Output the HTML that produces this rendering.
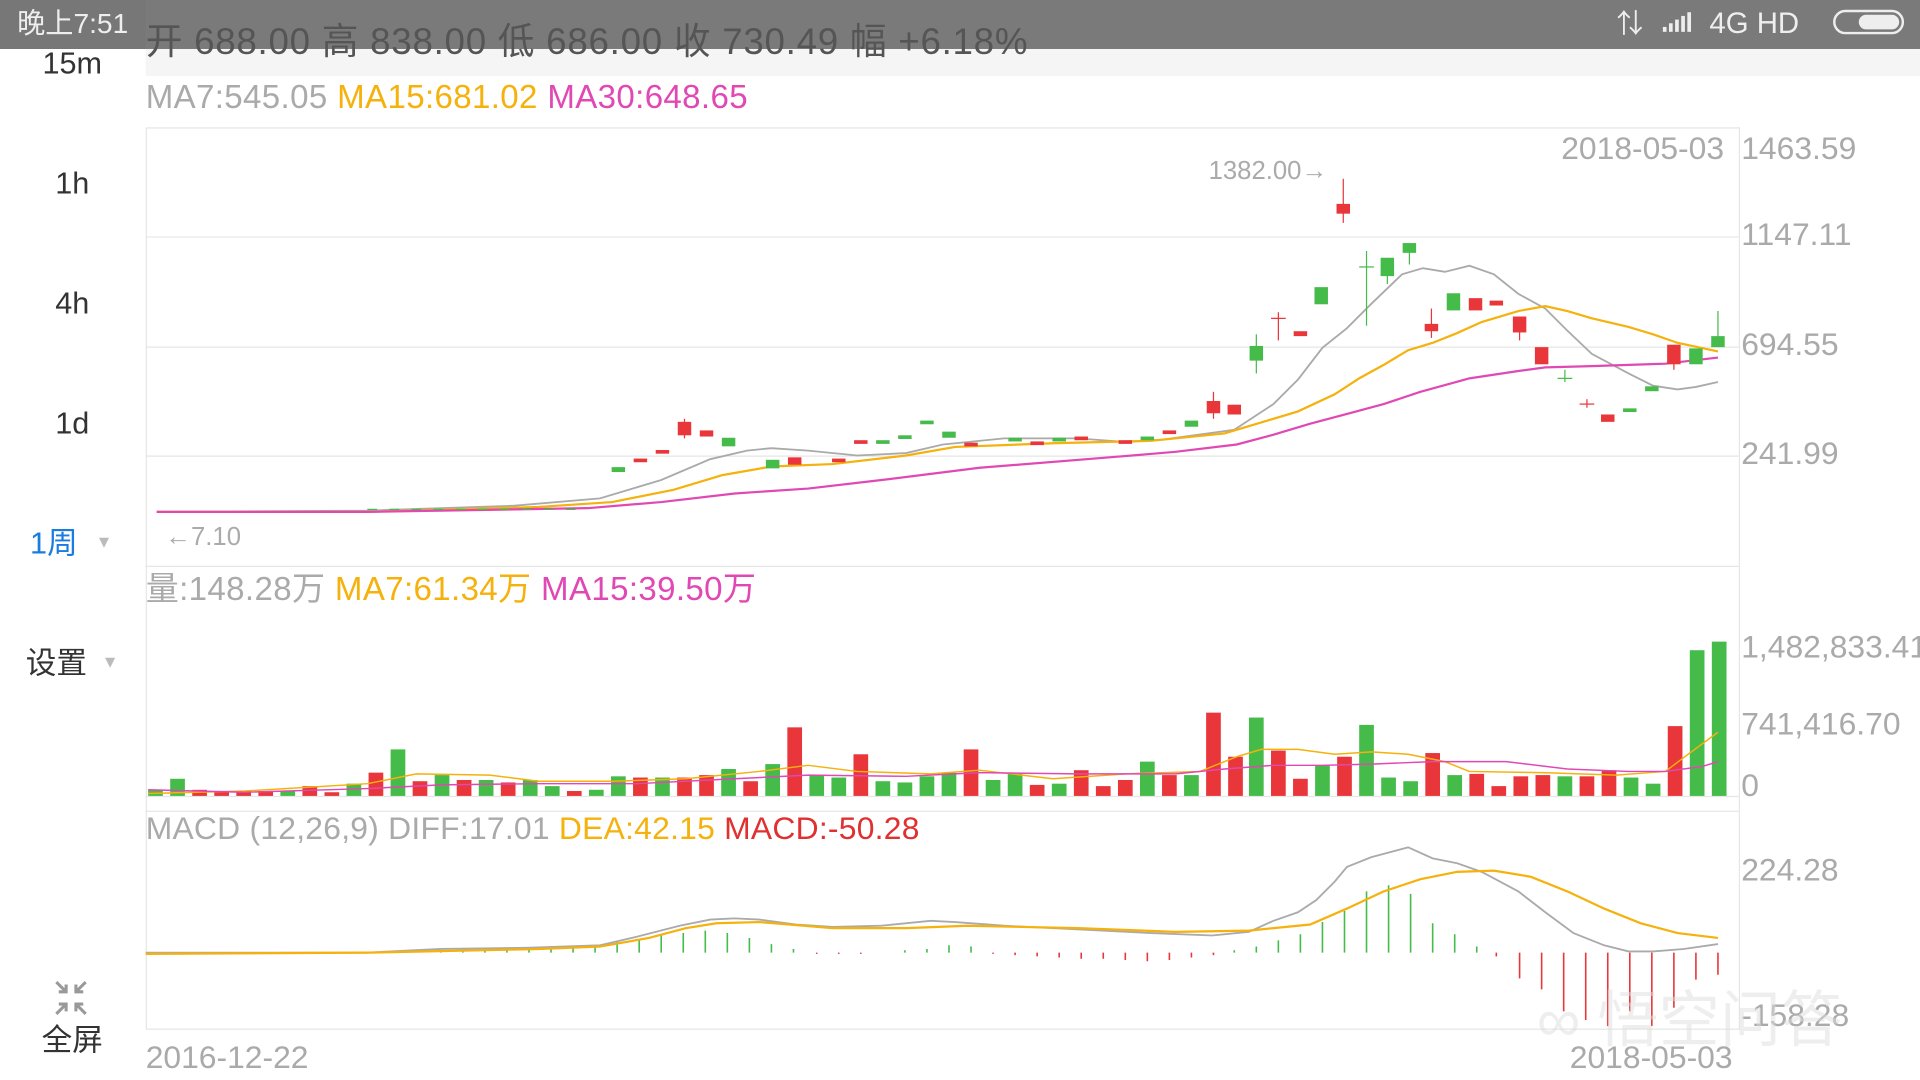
<!DOCTYPE html>
<html><head><meta charset="utf-8"><style>
html,body{margin:0;padding:0;background:#fff;width:1920px;height:1080px;overflow:hidden}
svg{display:block}
text{font-family:"Liberation Sans","Noto Sans CJK SC",sans-serif}
</style></head><body>
<svg width="1920" height="1080" viewBox="0 0 1568 882" xmlns="http://www.w3.org/2000/svg">
<rect width="1568" height="882" fill="#fff"/>
<rect x="119" y="40" width="1449" height="22" fill="#f5f5f5"/>
<rect x="0" y="0" width="1568" height="40" fill="#7a7a7a"/>
<rect x="0" y="0" width="119" height="40" fill="#777"/>
<text x="14" y="27" font-size="23" fill="#eee">晚上7:51</text>
<text x="119" y="44" font-size="30" fill="#555" letter-spacing="0.6">开 688.00 高 838.00 低 686.00 收 730.49 幅 +6.18%</text>
<text x="1320" y="27" font-size="22" fill="#eee">⇅</text>
<g fill="#eee"><rect x="1358" y="22" width="3" height="4"/><rect x="1363" y="19" width="3" height="7"/><rect x="1368" y="16" width="3" height="10"/><rect x="1373" y="13" width="3" height="13"/><rect x="1378" y="10" width="3" height="16"/></g>
<text x="1396" y="27" font-size="24" fill="#eee">4G HD</text>
<rect x="1498" y="9" width="56" height="18" rx="9" fill="none" stroke="#eee" stroke-width="2"/>
<rect x="1518" y="12" width="33" height="12" rx="6" fill="#eee"/>
<g font-size="25" fill="#333" text-anchor="middle">
<text x="59" y="60">15m</text><text x="59" y="158">1h</text><text x="59" y="256">4h</text><text x="59" y="354">1d</text>
<text x="44" y="452" fill="#1a7be0">1周</text><text x="46" y="550">设置</text><text x="59" y="858">全屏</text>
</g>
<text x="78" y="447" font-size="14" fill="#bbb">▼</text><text x="83" y="545" font-size="14" fill="#bbb">▼</text>
<g stroke="#999" stroke-width="2.5" fill="none"><path d="M46 802l8 8m0-6v6h-6M70 802l-8 8m0-6v6h6M46 828l8-8m0 6v-6h-6M70 828l-8-8m0 6v-6h6"/></g>
<g stroke="#e6e6e6" stroke-width="1" fill="none">
<rect x="119.5" y="104.5" width="1301" height="736"/>
<line x1="119" y1="193.5" x2="1420" y2="193.5"/><line x1="119" y1="283.5" x2="1420" y2="283.5"/><line x1="119" y1="372.5" x2="1420" y2="372.5"/>
<line x1="119" y1="462.5" x2="1420" y2="462.5"/><line x1="119" y1="650.5" x2="1420" y2="650.5"/><line x1="119" y1="662.5" x2="1420" y2="662.5"/>
</g>
<text x="119" y="88" font-size="27" fill="#aaa" letter-spacing="0.3">MA7:545.05 <tspan fill="#f5b10c">MA15:681.02</tspan> <tspan fill="#e048b4">MA30:648.65</tspan></text>
<g font-size="26" fill="#aaa">
<text x="1275" y="130">2018-05-03</text><text x="1422" y="130">1463.59</text><text x="1422" y="200">1147.11</text><text x="1422" y="290">694.55</text><text x="1422" y="379">241.99</text>
<text x="1422" y="537">1,482,833.41</text><text x="1422" y="600">741,416.70</text><text x="1422" y="650">0</text>
<text x="1422" y="719">224.28</text><text x="1422" y="838">-158.28</text>
<text x="119" y="872">2016-12-22</text><text x="1282" y="872">2018-05-03</text>
</g>
<text x="987" y="146" font-size="21" fill="#aaa">1382.00→</text>
<text x="135" y="445" font-size="21" fill="#aaa">←7.10</text>
<text x="119" y="490" font-size="27" fill="#aaa" letter-spacing="0.3">量:148.28万 <tspan fill="#f5b10c">MA7:61.34万</tspan> <tspan fill="#e048b4">MA15:39.50万</tspan></text>
<text x="119" y="685" font-size="26" fill="#aaa" letter-spacing="0.2">MACD (12,26,9) DIFF:17.01 <tspan fill="#f5b10c">DEA:42.15</tspan> <tspan fill="#e03030">MACD:-50.28</tspan></text>
<polyline fill="none" stroke="#aaa" stroke-width="1.5" points="128,418 300,417 420,413 490,407 540,392 580,375 610,368 630,366 660,368 700,372 740,370 770,363 820,358 880,358 920,361 950,359 1008,351 1040,330 1060,310 1080,284 1100,268 1120,248 1145,224 1162,219 1180,222 1200,217 1220,224 1240,240 1262,252 1280,270 1300,289 1330,305 1350,315 1370,318 1385,316 1403,312"/>
<polyline fill="none" stroke="#f5b10c" stroke-width="1.8" points="128,418 300,418 440,414 500,410 550,400 590,388 630,381 680,379 740,372 780,365 860,362 940,360 1000,354 1030,345 1060,336 1090,322 1110,309 1130,298 1150,286 1170,280 1190,272 1210,263 1240,254 1262,250 1280,254 1300,260 1330,267 1350,273 1370,280 1403,287"/>
<polyline fill="none" stroke="#e048b4" stroke-width="1.8" points="128,418 300,418 480,415 540,410 600,403 660,399 720,392 800,382 900,374 960,369 1010,363 1040,355 1070,346 1100,338 1130,330 1160,320 1200,309 1240,303 1262,300 1300,299 1330,298 1360,297 1403,292"/>
<g fill="#45bb4a" stroke="#45bb4a">
<rect x="500" y="382" width="10" height="3"/><rect x="590" y="358" width="10" height="6"/><rect x="626" y="376" width="10" height="6"/><rect x="716" y="360" width="10" height="2"/><rect x="734" y="356" width="10" height="2"/><rect x="752" y="344" width="10" height="2"/><rect x="770" y="353" width="10" height="4"/><rect x="824" y="358" width="10" height="2"/><rect x="860" y="358" width="10" height="2"/><rect x="932" y="357" width="10" height="2"/><rect x="968" y="344" width="10" height="4"/>
<rect x="1021" y="283" width="10" height="11"/><rect x="1074" y="235" width="10" height="13"/><rect x="1128" y="211" width="10" height="14"/><rect x="1146" y="199" width="10" height="7"/><rect x="1182" y="240" width="10" height="13"/><rect x="1344" y="316" width="10" height="3"/><rect x="1326" y="334" width="10" height="2"/><rect x="1380" y="285" width="10" height="12"/><rect x="1398" y="275" width="10" height="8"/>
<line x1="1026" y1="273" x2="1026" y2="305"/><line x1="1116" y1="205" x2="1116" y2="266"/><line x1="1110" y1="218" x2="1122" y2="218"/><line x1="1272" y1="309" x2="1284" y2="309"/><line x1="1278" y1="302" x2="1278" y2="312"/><line x1="1403" y1="254" x2="1403" y2="283"/><line x1="1133" y1="225" x2="1133" y2="232"/><line x1="1151" y1="206" x2="1151" y2="216"/>
<line x1="300" y1="416" x2="480" y2="416" stroke-dasharray="8,10"/>
</g>
<g fill="#e8363a" stroke="#e8363a">
<rect x="518" y="375" width="10" height="2"/><rect x="536" y="368" width="10" height="2"/><rect x="554" y="345" width="10" height="10"/><rect x="572" y="352" width="10" height="4"/><rect x="644" y="374" width="10" height="5"/><rect x="680" y="375" width="10" height="2"/><rect x="698" y="360" width="10" height="2"/><rect x="788" y="362" width="10" height="2"/><rect x="842" y="361" width="10" height="2"/><rect x="878" y="357" width="10" height="2"/><rect x="914" y="360" width="10" height="2"/><rect x="950" y="352" width="10" height="2"/>
<rect x="986" y="328" width="10" height="9"/><rect x="1003" y="331" width="10" height="7"/><rect x="1057" y="271" width="10" height="3"/><rect x="1092" y="167" width="10" height="7"/><rect x="1164" y="265" width="10" height="5"/><rect x="1200" y="244" width="10" height="9"/><rect x="1217" y="246" width="10" height="3"/><rect x="1236" y="259" width="10" height="12"/><rect x="1254" y="284" width="10" height="13"/><rect x="1308" y="339" width="10" height="5"/><rect x="1362" y="282" width="10" height="15"/>
<line x1="559" y1="342" x2="559" y2="358"/><line x1="991" y1="320" x2="991" y2="342"/><line x1="1044" y1="255" x2="1044" y2="278"/><line x1="1038" y1="260" x2="1050" y2="260"/><line x1="1097" y1="146" x2="1097" y2="182"/><line x1="1169" y1="252" x2="1169" y2="276"/><line x1="1241" y1="271" x2="1241" y2="278"/><line x1="1290" y1="330" x2="1302" y2="330"/><line x1="1296" y1="326" x2="1296" y2="333"/><line x1="1367" y1="297" x2="1367" y2="302"/>
</g>
<g fill="#45bb4a">
<rect x="121" y="645" width="12" height="5"/><rect x="139" y="636" width="12" height="14"/><rect x="229" y="646" width="12" height="4"/><rect x="283" y="640" width="12" height="10"/><rect x="319" y="612" width="12" height="38"/><rect x="355" y="633" width="12" height="17"/><rect x="391" y="637" width="12" height="13"/><rect x="427" y="637" width="12" height="13"/><rect x="445" y="642" width="12" height="8"/><rect x="481" y="645" width="12" height="5"/><rect x="499" y="634" width="12" height="16"/><rect x="535" y="635" width="12" height="15"/><rect x="589" y="628" width="12" height="22"/><rect x="625" y="624" width="12" height="26"/><rect x="661" y="633" width="12" height="17"/><rect x="679" y="635" width="12" height="15"/><rect x="715" y="638" width="12" height="12"/><rect x="733" y="639" width="12" height="11"/><rect x="751" y="634" width="12" height="16"/><rect x="769" y="631" width="12" height="19"/><rect x="805" y="637" width="12" height="13"/><rect x="823" y="632" width="12" height="18"/><rect x="859" y="640" width="12" height="10"/><rect x="931" y="622" width="12" height="28"/><rect x="967" y="633" width="12" height="17"/><rect x="1020" y="586" width="12" height="64"/><rect x="1074" y="625" width="12" height="25"/><rect x="1110" y="592" width="12" height="58"/><rect x="1128" y="635" width="12" height="15"/><rect x="1146" y="638" width="12" height="12"/><rect x="1182" y="633" width="12" height="17"/><rect x="1272" y="634" width="12" height="16"/><rect x="1326" y="635" width="12" height="15"/><rect x="1344" y="640" width="12" height="10"/><rect x="1380" y="531" width="12" height="119"/><rect x="1398" y="524" width="12" height="126"/>
</g>
<g fill="#e8363a">
<rect x="157" y="645" width="12" height="5"/><rect x="175" y="647" width="12" height="3"/><rect x="193" y="646" width="12" height="4"/><rect x="211" y="646" width="12" height="4"/><rect x="247" y="642" width="12" height="8"/><rect x="265" y="647" width="12" height="3"/><rect x="301" y="631" width="12" height="19"/><rect x="337" y="638" width="12" height="12"/><rect x="373" y="637" width="12" height="13"/><rect x="409" y="639" width="12" height="11"/><rect x="463" y="646" width="12" height="4"/><rect x="517" y="635" width="12" height="15"/><rect x="553" y="635" width="12" height="15"/><rect x="571" y="633" width="12" height="17"/><rect x="607" y="638" width="12" height="12"/><rect x="643" y="594" width="12" height="56"/><rect x="697" y="616" width="12" height="34"/><rect x="787" y="612" width="12" height="38"/><rect x="841" y="641" width="12" height="9"/><rect x="877" y="629" width="12" height="21"/><rect x="895" y="642" width="12" height="8"/><rect x="913" y="637" width="12" height="13"/><rect x="949" y="633" width="12" height="17"/><rect x="985" y="582" width="12" height="68"/><rect x="1003" y="618" width="12" height="32"/><rect x="1038" y="613" width="12" height="37"/><rect x="1056" y="636" width="12" height="14"/><rect x="1092" y="618" width="12" height="32"/><rect x="1164" y="615" width="12" height="35"/><rect x="1200" y="632" width="12" height="18"/><rect x="1218" y="642" width="12" height="8"/><rect x="1236" y="634" width="12" height="16"/><rect x="1254" y="633" width="12" height="17"/><rect x="1290" y="634" width="12" height="16"/><rect x="1308" y="629" width="12" height="21"/><rect x="1362" y="593" width="12" height="57"/>
</g>
<polyline fill="none" stroke="#f5b10c" stroke-width="1.2" points="121,648 200,646 300,640 340,632 400,633 440,638 500,638 560,636 620,630 660,625 700,630 760,632 800,629 860,636 920,632 980,630 1010,618 1030,612 1060,612 1090,616 1120,614 1150,616 1180,622 1200,630 1260,631 1320,633 1360,630 1380,615 1403,598"/>
<polyline fill="none" stroke="#e048b4" stroke-width="1.2" points="121,645 200,647 300,644 360,641 440,640 520,640 600,636 660,633 740,634 800,631 880,632 960,632 1000,628 1040,625 1080,625 1120,624 1170,622 1230,622 1280,628 1330,630 1360,630 1390,626 1403,622"/>
<g stroke="#45bb4a" stroke-width="1.3">
<path d="M360 778v-2M378 778v-2M396 778v-3M414 778v-3M432 778v-4M450 778v-4M468 778v-5M486 778v-6M504 778v-9M522 778v-11M540 778v-14M558 778v-16M576 778v-18M594 778v-16M612 778v-12M630 778v-7M648 778v-3M739 778v-2M757 778v-3M775 778v-6M793 778v-5M1008 778v-2M1026 778v-5M1044 778v-10M1062 778v-15M1080 778v-25M1098 778v-34M1116 778v-50M1134 778v-55M1152 778v-48M1170 778v-24M1188 778v-15M1206 778v-5"/>
</g>
<g stroke="#e8363a" stroke-width="1.3">
<path d="M667 778v1M685 778v1M703 778v1M811 778v1M829 778v2M847 778v3M865 778v4M883 778v5M901 778v5M919 778v6M937 778v7M955 778v6M973 778v4M991 778v2M1222 778v3M1241 778v21M1259 778v30M1277 778v48M1295 778v55M1313 778v60M1331 778v48M1349 778v60M1367 778v45M1385 778v22M1403 778v18"/>
</g>
<polyline fill="none" stroke="#aaa" stroke-width="1.5" points="119,778 300,778 360,775 430,774 490,772 520,765 555,756 580,751 600,750 620,751 650,755 680,757 720,756 760,752 780,753 820,756 880,759 940,762 990,764 1020,761 1040,752 1060,745 1075,735 1090,720 1100,708 1120,700 1150,692 1170,701 1190,705 1210,712 1240,728 1262,745 1285,762 1310,772 1330,777 1350,777 1375,775 1403,771"/>
<polyline fill="none" stroke="#f5b10c" stroke-width="1.8" points="119,779 300,778 440,775 490,773 530,766 560,758 585,754 620,753 680,758 740,758 790,756 880,758 960,761 1020,760 1070,755 1100,742 1130,728 1160,718 1190,712 1220,711 1250,716 1280,728 1310,742 1340,754 1370,762 1403,766"/>
<text x="1255" y="850" font-size="50" fill="#ddd" fill-opacity="0.5">∞ 悟空问答</text>
</svg>
</body></html>
